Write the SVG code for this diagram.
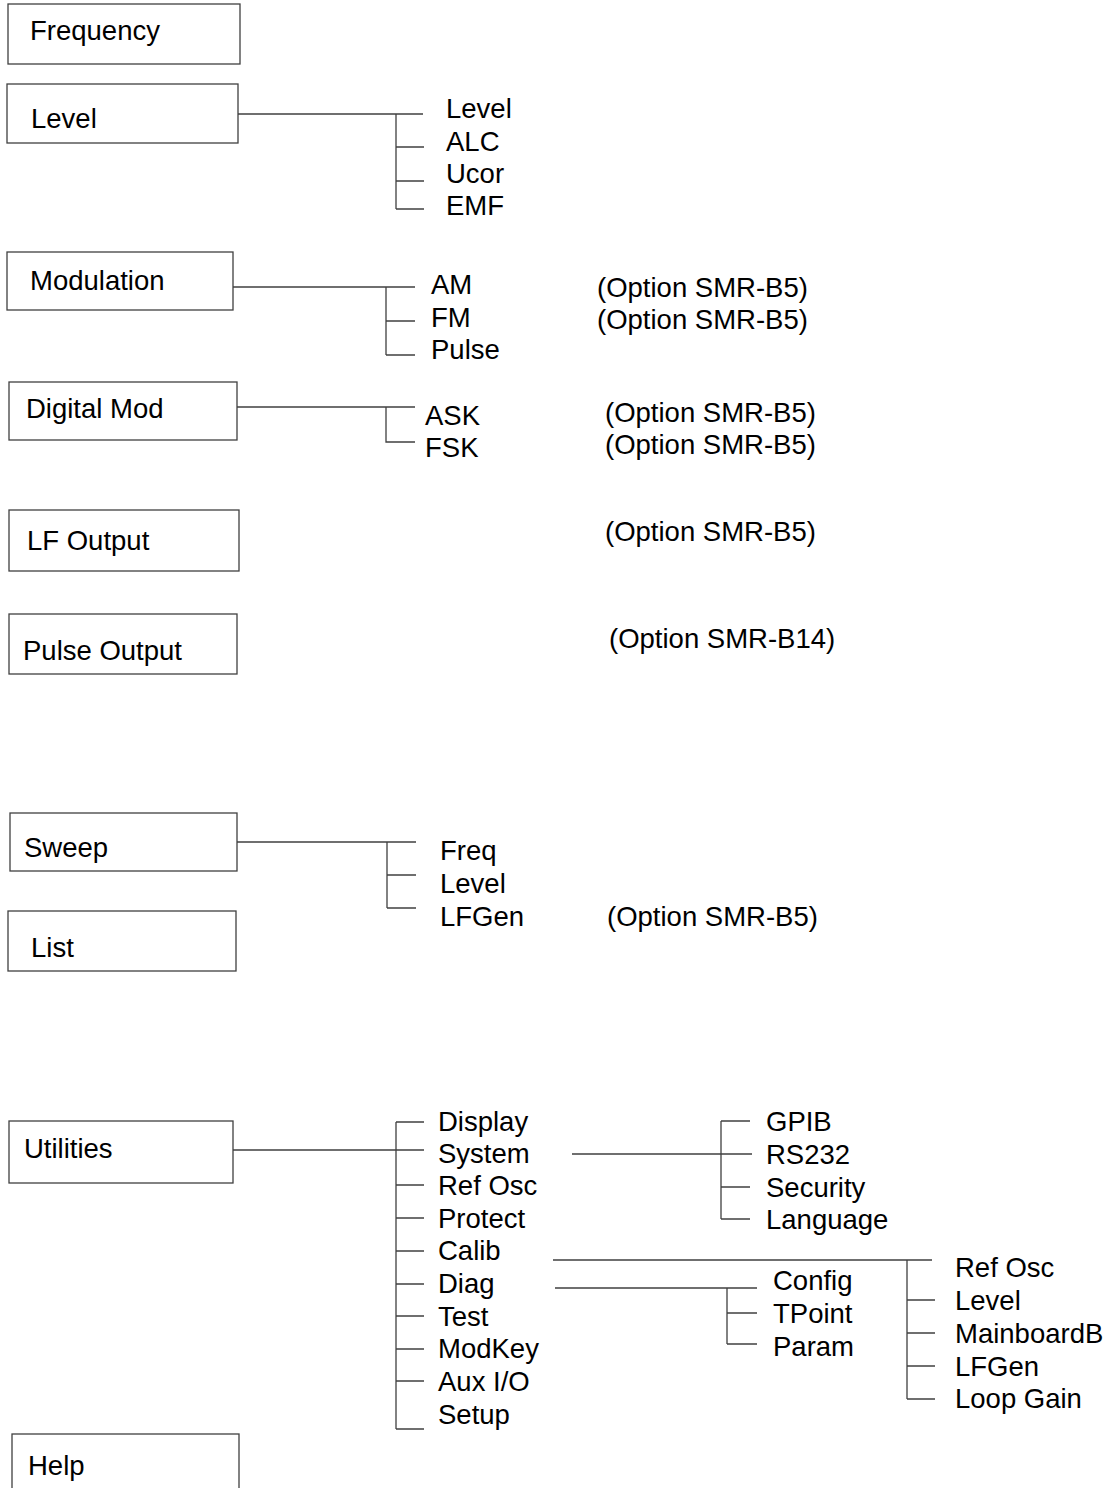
<svg xmlns="http://www.w3.org/2000/svg" width="1106" height="1488" viewBox="0 0 1106 1488">
<style>
.box{fill:#fff;stroke:#404040;stroke-width:1.3}
.t{font-family:"Liberation Sans",Arial,sans-serif;font-size:27.5px;fill:#000}
.c{stroke:#404040;stroke-width:1.3;fill:none}
</style>
<rect width="1106" height="1488" fill="#fff"/>
<g id="connectors">
<path class="c" d="M238 114H423M396 114V209M396 147H424M396 181H424M396 209H424"/>
<path class="c" d="M233 287H415M386 287V355M386 321H415M386 355H415"/>
<path class="c" d="M237 407H415M386 407V442H415"/>
<path class="c" d="M237 842H416M387 842V908M387 875H416M387 908H416"/>
<path class="c" d="M233 1150H424M396 1122V1429M396 1122H424M396 1185H424M396 1218H424M396 1251H424M396 1284H424M396 1316H424M396 1349H424M396 1381H424M396 1429H424"/>
<path class="c" d="M572 1154H752M721 1121V1219M721 1121H750M721 1187H750M721 1219H750"/>
<path class="c" d="M553 1260H932M907 1260V1399M907 1300H935M907 1333H935M907 1366H935M907 1399H935"/>
<path class="c" d="M555 1288H757M727 1288V1344M727 1313H757M727 1344H757"/>
</g>
<g id="frequency"><rect class="box" x="8" y="4" width="232" height="60"/><text class="t" x="30" y="40">Frequency</text></g>
<g id="level"><rect class="box" x="7" y="84" width="231" height="59"/><text class="t" x="31" y="128">Level</text></g>
<g id="level-items"><text class="t" x="446" y="118">Level</text><text class="t" x="446" y="151">ALC</text><text class="t" x="446" y="183">Ucor</text><text class="t" x="446" y="215">EMF</text></g>
<g id="modulation"><rect class="box" x="7" y="252" width="226" height="58"/><text class="t" x="30" y="290">Modulation</text></g>
<g id="modulation-items"><text class="t" x="431" y="294">AM</text><text class="t" x="431" y="327">FM</text><text class="t" x="431" y="359">Pulse</text>
<text class="t" x="597" y="297">(Option SMR-B5)</text><text class="t" x="597" y="329">(Option SMR-B5)</text></g>
<g id="digital-mod"><rect class="box" x="9" y="382" width="228" height="58"/><text class="t" x="26" y="418">Digital Mod</text></g>
<g id="digital-mod-items"><text class="t" x="425" y="425">ASK</text><text class="t" x="425" y="457">FSK</text>
<text class="t" x="605" y="422">(Option SMR-B5)</text><text class="t" x="605" y="454">(Option SMR-B5)</text></g>
<g id="lf-output"><rect class="box" x="9" y="510" width="230" height="61"/><text class="t" x="27" y="550">LF Output</text><text class="t" x="605" y="541">(Option SMR-B5)</text></g>
<g id="pulse-output"><rect class="box" x="9" y="614" width="228" height="60"/><text class="t" x="23" y="660">Pulse Output</text><text class="t" x="609" y="648">(Option SMR-B14)</text></g>
<g id="sweep"><rect class="box" x="10" y="813" width="227" height="58"/><text class="t" x="24" y="857">Sweep</text></g>
<g id="sweep-items"><text class="t" x="440" y="860">Freq</text><text class="t" x="440" y="893">Level</text><text class="t" x="440" y="926">LFGen</text><text class="t" x="607" y="926">(Option SMR-B5)</text></g>
<g id="list"><rect class="box" x="8" y="911" width="228" height="60"/><text class="t" x="31" y="957">List</text></g>
<g id="utilities"><rect class="box" x="9" y="1121" width="224" height="62"/><text class="t" x="24" y="1158">Utilities</text></g>
<g id="utilities-items">
<text class="t" x="438" y="1131">Display</text><text class="t" x="438" y="1163">System</text><text class="t" x="438" y="1195">Ref Osc</text><text class="t" x="438" y="1228">Protect</text><text class="t" x="438" y="1260">Calib</text><text class="t" x="438" y="1293">Diag</text><text class="t" x="438" y="1326">Test</text><text class="t" x="438" y="1358">ModKey</text><text class="t" x="438" y="1391">Aux I/O</text><text class="t" x="438" y="1424">Setup</text>
</g>
<g id="system-items"><text class="t" x="766" y="1131">GPIB</text><text class="t" x="766" y="1164">RS232</text><text class="t" x="766" y="1197">Security</text><text class="t" x="766" y="1229">Language</text></g>
<g id="diag-items"><text class="t" x="773" y="1290">Config</text><text class="t" x="773" y="1323">TPoint</text><text class="t" x="773" y="1356">Param</text></g>
<g id="calib-items"><text class="t" x="955" y="1277">Ref Osc</text><text class="t" x="955" y="1310">Level</text><text class="t" x="955" y="1343">MainboardB</text><text class="t" x="955" y="1376">LFGen</text><text class="t" x="955" y="1408">Loop Gain</text></g>
<g id="help"><rect class="box" x="12" y="1434" width="227" height="60"/><text class="t" x="28" y="1475">Help</text></g>
</svg>
